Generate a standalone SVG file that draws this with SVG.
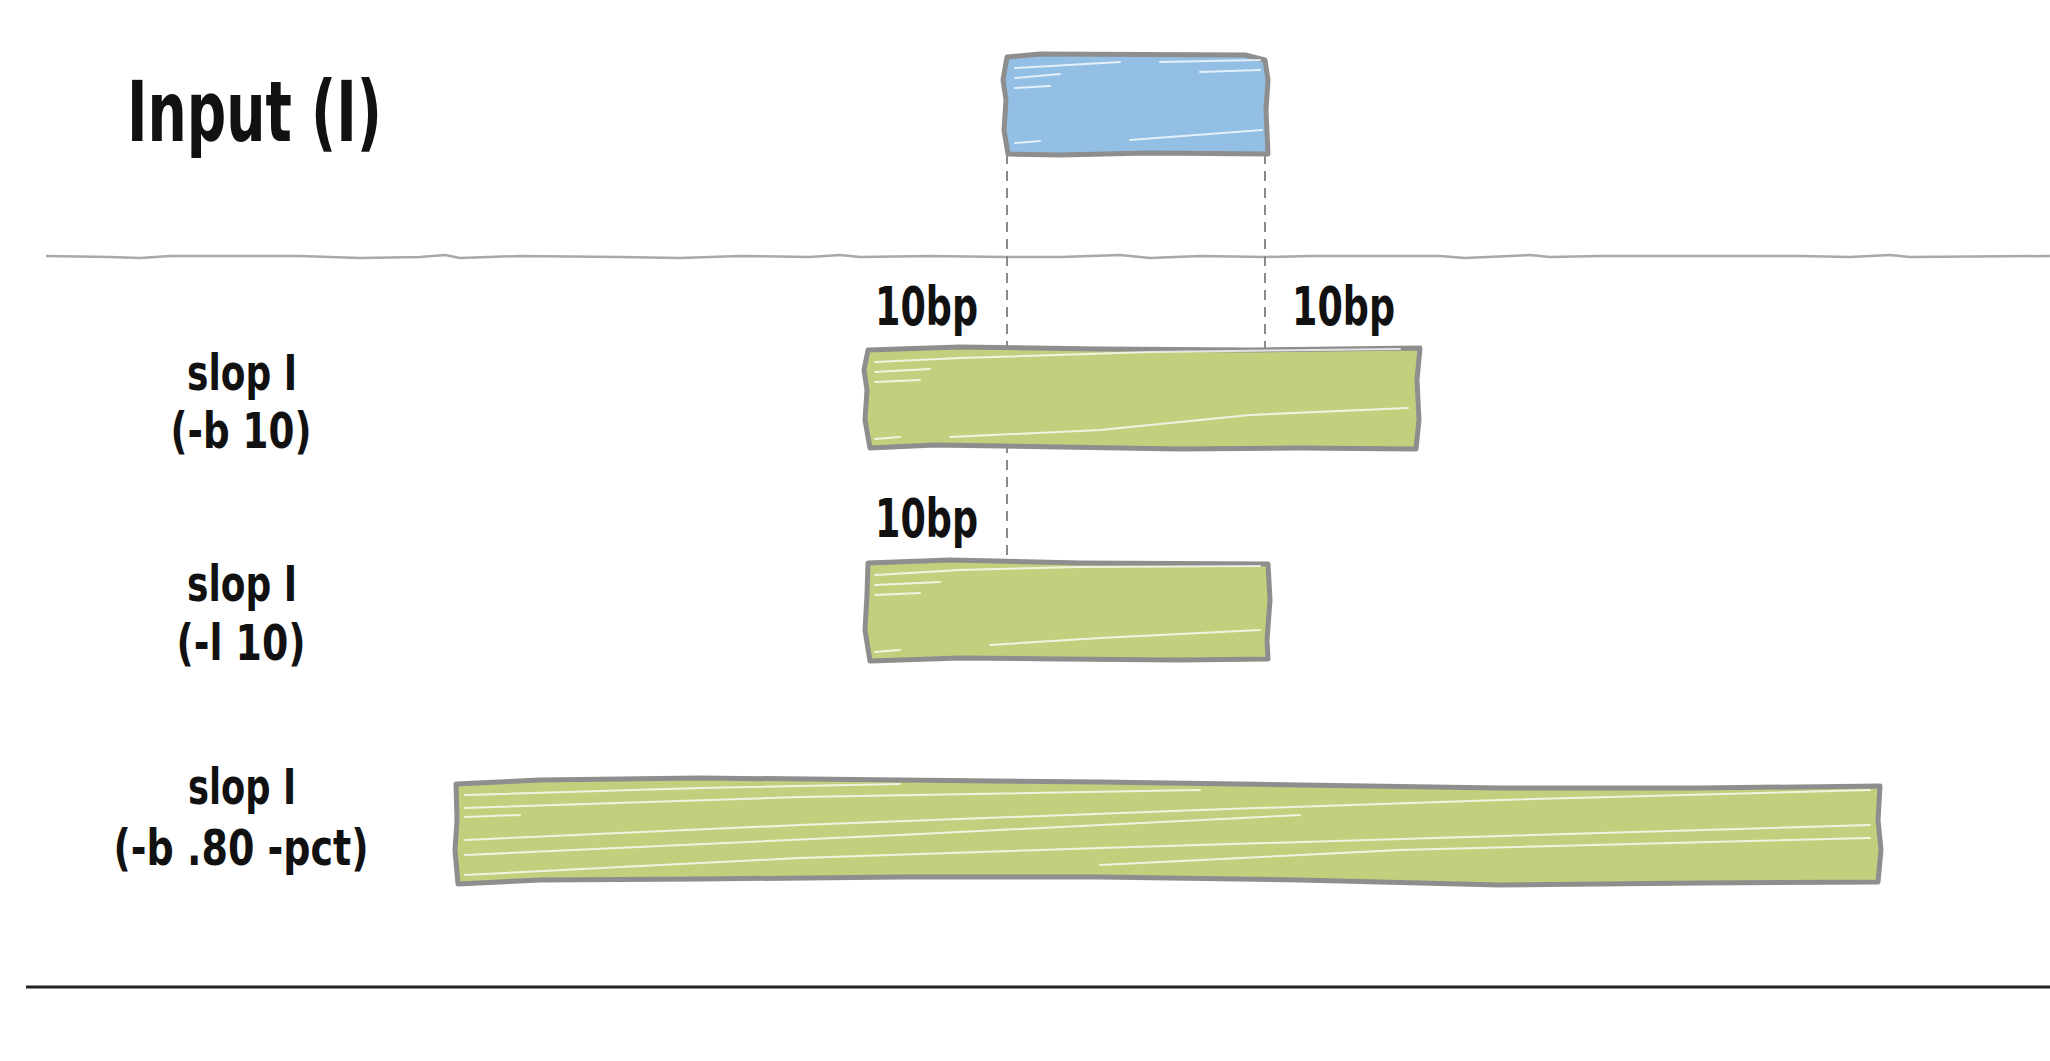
<svg xmlns="http://www.w3.org/2000/svg" width="2050" height="1061" viewBox="0 0 2050 1061">
<style>
.lbl{font-family:"Liberation Sans Narrow","DejaVu Sans Condensed","Liberation Sans",sans-serif;font-weight:bold;fill:#111;}
.box{stroke:#8e8e8e;stroke-width:5;stroke-linejoin:round;}
.blue{fill:#93bfe4;}
.green{fill:#c2d07e;}
.hatch{stroke:#ffffff;stroke-width:2;fill:none;opacity:0.75;stroke-linecap:round;}
.dash{stroke:#8a8a8a;stroke-width:2;stroke-dasharray:10 7;fill:none;}
</style>
<rect width="2050" height="1061" fill="#ffffff"/>
<text class="lbl" x="127" y="141" font-size="84" textLength="255" lengthAdjust="spacingAndGlyphs">Input (I)</text>
<path d="M46,256 L110,257 L140,258 L170,256 L300,256 L360,258 L420,257 L445,255 L460,258 L520,256 L620,257 L680,258 L740,256 L810,257 L840,255 L860,257 L930,256 L1006,257 L1060,257 L1120,255 L1150,258 L1200,256 L1266,257 L1310,256 L1440,256 L1465,258 L1510,256 L1530,255 L1550,257 L1600,256 L1800,256 L1850,257 L1890,255 L1910,257 L2050,256" fill="none" stroke="#a9a9a9" stroke-width="2.5" stroke-linejoin="round"/>
<g id="connectors">
<line class="dash" x1="1007" y1="154" x2="1007" y2="562"/>
<line class="dash" x1="1265" y1="154" x2="1265" y2="349"/>
</g>
<g id="input">
<path class="box blue" d="M1007,57 L1040,54 L1245,55 L1265,60 L1268,80 L1266,110 L1268,154 L1150,153 L1060,155 L1008,154 L1004,130 L1006,100 L1003,80 Z"/>
<path class="hatch" d="M1015,68 L1120,62 M1015,78 L1060,74 M1015,88 L1050,86 M1160,62 L1260,60 M1200,72 L1260,70 M1015,143 L1040,141 M1130,140 L1262,130"/>
</g>
<g id="slop1">
<text class="lbl" x="242" y="390" font-size="50" text-anchor="middle" textLength="110" lengthAdjust="spacingAndGlyphs">slop I</text>
<text class="lbl" x="241" y="448" font-size="50" text-anchor="middle" textLength="141" lengthAdjust="spacingAndGlyphs">(-b 10)</text>
<text class="lbl" x="875" y="325" font-size="54" textLength="103" lengthAdjust="spacingAndGlyphs">10bp</text>
<text class="lbl" x="1292" y="325" font-size="54" textLength="103" lengthAdjust="spacingAndGlyphs">10bp</text>
<path class="box green" d="M868,350 L960,347 L1100,349 L1250,350 L1420,348 L1417,380 L1419,420 L1416,449 L1300,448 L1180,449 L1060,447 L935,445 L870,448 L865,420 L867,390 L864,370 Z"/>
<path class="hatch" d="M875,362 L960,358 M875,372 L930,369 M875,382 L920,380 M960,358 L1150,352 L1400,349 M875,439 L900,437 M950,437 L1100,430 L1250,415 L1408,408"/>
</g>
<g id="slop2">
<text class="lbl" x="242" y="601" font-size="50" text-anchor="middle" textLength="110" lengthAdjust="spacingAndGlyphs">slop I</text>
<text class="lbl" x="241" y="660" font-size="50" text-anchor="middle" textLength="129" lengthAdjust="spacingAndGlyphs">(-l 10)</text>
<text class="lbl" x="875" y="537" font-size="54" textLength="103" lengthAdjust="spacingAndGlyphs">10bp</text>
<path class="box green" d="M868,563 L950,560 L1080,563 L1268,564 L1270,600 L1267,640 L1268,659 L1180,660 L1060,659 L960,658 L870,661 L865,630 L867,595 Z"/>
<path class="hatch" d="M875,575 L960,570 L1080,567 L1260,566 M875,585 L940,582 M875,595 L920,593 M875,652 L900,650 M990,645 L1100,638 L1260,630"/>
</g>
<g id="slop3">
<text class="lbl" x="242" y="804" font-size="50" text-anchor="middle" textLength="108" lengthAdjust="spacingAndGlyphs">slop I</text>
<text class="lbl" x="241" y="865" font-size="50" text-anchor="middle" textLength="255" lengthAdjust="spacingAndGlyphs">(-b .80 -pct)</text>
<path class="box green" d="M456,784 L540,780 L700,778 L900,780 L1100,782 L1300,785 L1500,788 L1700,788 L1880,786 L1878,820 L1881,850 L1878,882 L1700,883 L1500,885 L1300,880 L1100,877 L900,877 L700,879 L540,880 L458,884 L455,850 L457,820 Z"/>
<path class="hatch" d="M465,795 L700,788 L900,784 M465,808 L800,797 L1200,790 M465,817 L520,815 M465,840 L800,825 L1200,810 L1500,800 L1870,790 M465,855 L900,835 L1300,815 M465,875 L800,858 L1100,848 L1500,836 L1870,825 M1100,865 L1400,850 L1870,838"/>
</g>
<line x1="26" y1="987" x2="2050" y2="987" stroke="#222222" stroke-width="3"/>
</svg>
